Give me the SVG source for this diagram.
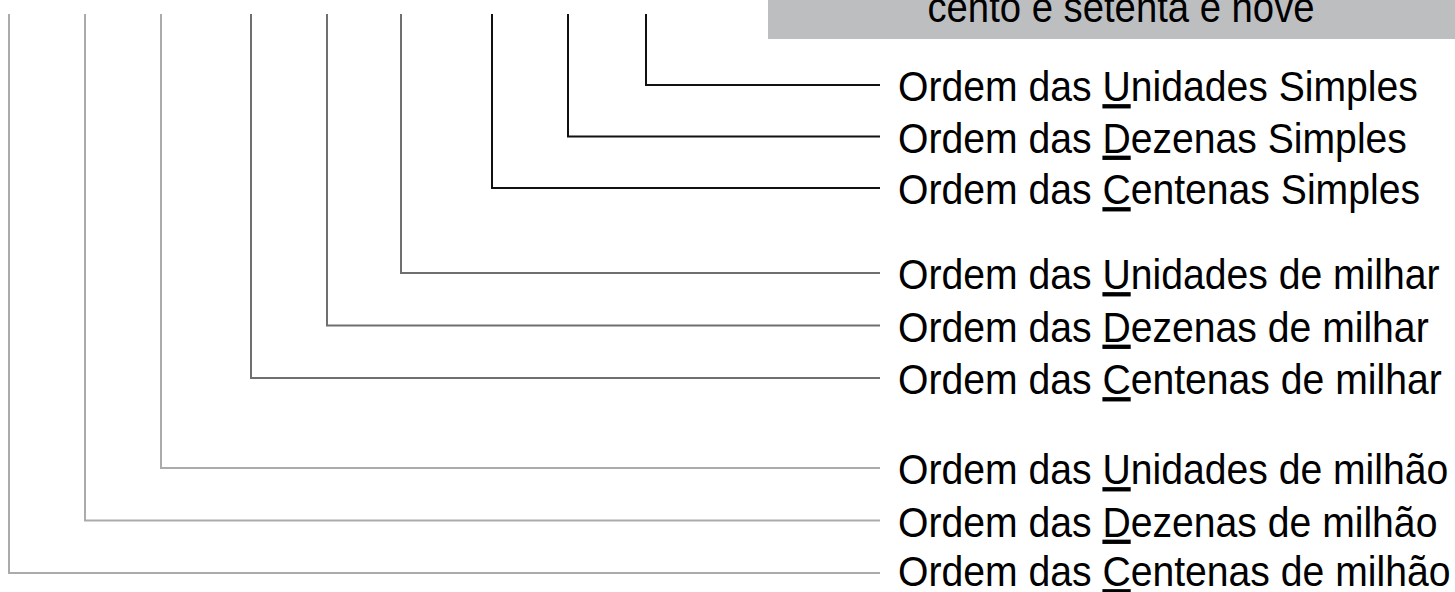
<svg xmlns="http://www.w3.org/2000/svg" width="1455" height="592" viewBox="0 0 1455 592">
  <style>
    .lbl { font-family: "Liberation Sans", Arial, sans-serif; font-size: 43px; fill: #000; }
    .u { text-decoration: underline; }
    .wire { fill: none; stroke-width: 2; }
    .simples { stroke: #111; }
    .milhar { stroke: #6f6f71; }
    .milhao { stroke: #ababad; }
  </style>
  <rect width="1455" height="592" fill="#fff"/>

  <!-- header band with the number written out -->
  <g id="header">
    <rect x="768" y="0" width="687" height="39" fill="#bdbec0"/>
    <text class="lbl" transform="translate(1121,22) scale(0.89,1)" text-anchor="middle">cento e setenta e nove</text>
  </g>

  <!-- one elbow per digit position -->
  <g id="connectors">
    <path class="wire simples" d="M646,14 V85 H880"/>
    <path class="wire simples" d="M568,14 V136.5 H880"/>
    <path class="wire simples" d="M492,14 V188 H880"/>
    <path class="wire milhar" d="M401,14 V273 H880"/>
    <path class="wire milhar" d="M327,14 V325.5 H880"/>
    <path class="wire milhar" d="M251,14 V378 H880"/>
    <path class="wire milhao" d="M161,14 V468 H880"/>
    <path class="wire milhao" d="M85,14 V520.5 H880"/>
    <path class="wire milhao" d="M9,14 V573 H880"/>
  </g>

  <!-- labels, slightly condensed -->
  <g id="unidades-simples"><text class="lbl" transform="translate(898,101) scale(0.91,1)">Ordem das <tspan class="u">U</tspan>nidades Simples</text></g>
  <g id="dezenas-simples"><text class="lbl" transform="translate(898,152.5) scale(0.91,1)">Ordem das <tspan class="u">D</tspan>ezenas Simples</text></g>
  <g id="centenas-simples"><text class="lbl" transform="translate(898,204) scale(0.91,1)">Ordem das <tspan class="u">C</tspan>entenas Simples</text></g>
  <g id="unidades-milhar"><text class="lbl" transform="translate(898,289) scale(0.91,1)">Ordem das <tspan class="u">U</tspan>nidades de milhar</text></g>
  <g id="dezenas-milhar"><text class="lbl" transform="translate(898,341.5) scale(0.91,1)">Ordem das <tspan class="u">D</tspan>ezenas de milhar</text></g>
  <g id="centenas-milhar"><text class="lbl" transform="translate(898,394) scale(0.91,1)">Ordem das <tspan class="u">C</tspan>entenas de milhar</text></g>
  <g id="unidades-milhao"><text class="lbl" transform="translate(898,484) scale(0.91,1)">Ordem das <tspan class="u">U</tspan>nidades de milhão</text></g>
  <g id="dezenas-milhao"><text class="lbl" transform="translate(898,536.5) scale(0.91,1)">Ordem das <tspan class="u">D</tspan>ezenas de milhão</text></g>
  <g id="centenas-milhao"><text class="lbl" transform="translate(898,586) scale(0.91,1)">Ordem das <tspan class="u">C</tspan>entenas de milhão</text></g>
</svg>
